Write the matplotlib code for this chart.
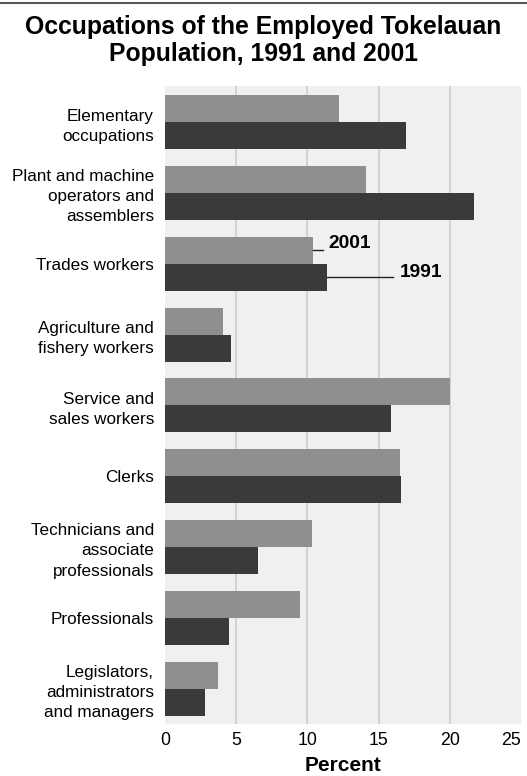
import numpy as np
import matplotlib
matplotlib.use('Agg')
import matplotlib.pyplot as plt
from matplotlib.lines import Line2D

plt.rcParams['font.family'] = ['Liberation Sans', 'DejaVu Sans']

# occupations, top to bottom as drawn
categories = [
    'Elementary\noccupations',
    'Plant and machine\noperators and\nassemblers',
    'Trades workers',
    'Agriculture and\nfishery workers',
    'Service and\nsales workers',
    'Clerks',
    'Technicians and\nassociate\nprofessionals',
    'Professionals',
    'Legislators,\nadministrators\nand managers',
]
pct_2001 = [12.2, 14.1, 10.4, 4.1, 20.0, 16.5, 10.3, 9.5, 3.7]
pct_1991 = [16.9, 21.7, 11.4, 4.6, 15.9, 16.6, 6.5, 4.5, 2.8]
x_ticks = [0, 5, 10, 15, 20, 25]

fig = plt.figure(figsize=(5.27, 7.76), dpi=100)
ax = fig.add_axes([0.3131, 0.067, 0.6755, 0.8222])
ax.set_facecolor('#f0f0f0')

y = np.arange(len(categories))
h = 0.381
ax.barh(y - h / 2, pct_2001, height=h, color='#8f8f8f', zorder=2)
ax.barh(y + h / 2, pct_1991, height=h, color='#3a3a3a', zorder=2)

ax.set_xlim(0, 25)
ax.set_ylim(len(categories) - 0.5, -0.51)
ax.set_xticks(x_ticks)
ax.set_yticks(y)
ax.set_yticklabels(categories, fontsize=12.3, linespacing=1.42)
ax.tick_params(axis='y', length=0, pad=7.9)
ax.tick_params(axis='x', length=0, pad=5.5, labelsize=12.8)
ax.get_xticklabels()[-1].set_ha('right')
ax.get_xticklabels()[-1].set_x(25.3)
for xv in x_ticks[1:-1]:
    ax.axvline(xv, color='#d2d2d2', lw=1.4, zorder=1)
for s in ax.spines.values():
    s.set_visible(False)
ax.set_xlabel('Percent', fontsize=15, fontweight='bold', labelpad=5)

# series labels on the Trades workers bars
i = categories.index('Trades workers')
ax.plot([pct_2001[i], 11.1], [i - h / 2, i - h / 2], color='#222222', lw=1, zorder=3)
ax.text(11.45, i - h / 2 - 0.09, '2001', fontsize=13.8, fontweight='bold', va='center')
ax.plot([pct_1991[i], 16.0], [i + h / 2, i + h / 2], color='#222222', lw=1, zorder=3)
ax.text(16.5, i + h / 2 - 0.07, '1991', fontsize=13.8, fontweight='bold', va='center')

fig.text(0.5, 0.948, 'Occupations of the Employed Tokelauan\nPopulation, 1991 and 2001',
         ha='center', va='center', fontsize=17.8, fontweight='bold', linespacing=1.13)
fig.add_artist(Line2D([0, 1], [1 - 3 / 776, 1 - 3 / 776], color='#555555', lw=1.5,
                      transform=fig.transFigure))

fig.savefig('out.png', dpi=100)
